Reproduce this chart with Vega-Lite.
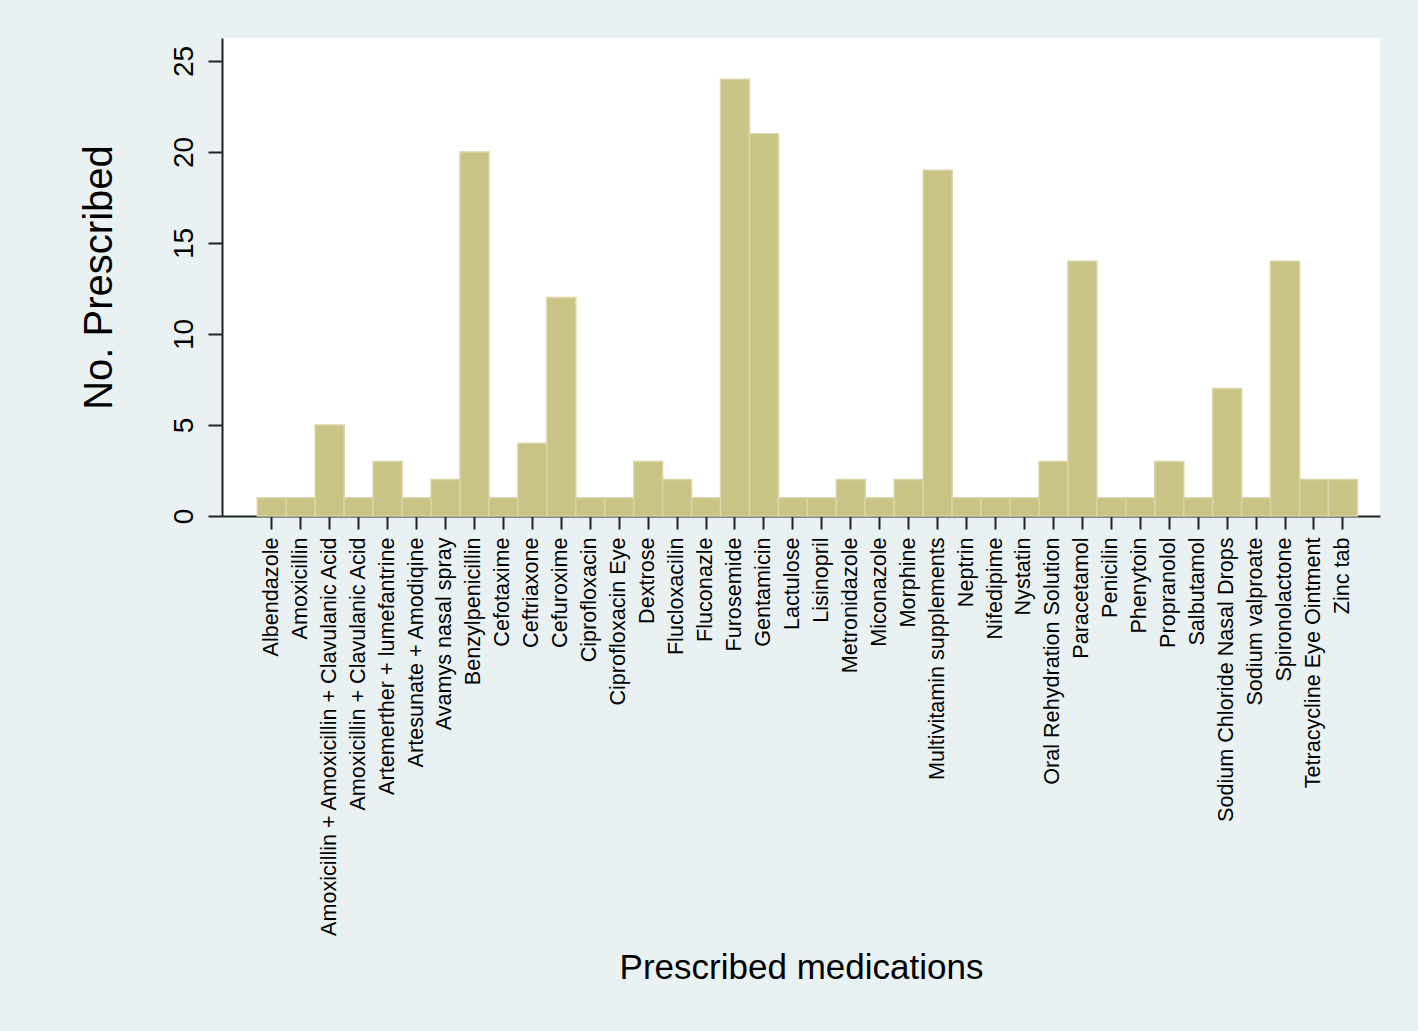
{
  "$schema": "https://vega.github.io/schema/vega-lite/v6.json",
  "autosize": {"type": "none"},
  "width": 1158,
  "height": 478,
  "padding": {"left": 222, "top": 38, "right": 38, "bottom": 515},
  "background": "#EAF1F3",
  "view": {"fill": "white", "stroke": null},
  "config": {"font": "Liberation Sans"},
  "data": {
    "values": [
      {"med": "Albendazole", "n": 1},
      {"med": "Amoxicillin", "n": 1},
      {"med": "Amoxicillin + Amoxicillin + Clavulanic Acid", "n": 5},
      {"med": "Amoxicillin + Clavulanic Acid", "n": 1},
      {"med": "Artemerther + lumefantrine", "n": 3},
      {"med": "Artesunate + Amodiqine", "n": 1},
      {"med": "Avamys nasal spray", "n": 2},
      {"med": "Benzylpenicillin", "n": 20},
      {"med": "Cefotaxime", "n": 1},
      {"med": "Ceftriaxone", "n": 4},
      {"med": "Cefuroxime", "n": 12},
      {"med": "Ciprofloxacin", "n": 1},
      {"med": "Ciprofloxacin Eye", "n": 1},
      {"med": "Dextrose", "n": 3},
      {"med": "Flucloxacilin", "n": 2},
      {"med": "Fluconazle", "n": 1},
      {"med": "Furosemide", "n": 24},
      {"med": "Gentamicin", "n": 21},
      {"med": "Lactulose", "n": 1},
      {"med": "Lisinopril", "n": 1},
      {"med": "Metronidazole", "n": 2},
      {"med": "Miconazole", "n": 1},
      {"med": "Morphine", "n": 2},
      {"med": "Multivitamin supplements", "n": 19},
      {"med": "Neptrin", "n": 1},
      {"med": "Nifedipime", "n": 1},
      {"med": "Nystatin", "n": 1},
      {"med": "Oral Rehydration Solution", "n": 3},
      {"med": "Paracetamol", "n": 14},
      {"med": "Penicilin", "n": 1},
      {"med": "Phenytoin", "n": 1},
      {"med": "Propranolol", "n": 3},
      {"med": "Salbutamol", "n": 1},
      {"med": "Sodium Chloride Nasal Drops", "n": 7},
      {"med": "Sodium valproate", "n": 1},
      {"med": "Spironolactone", "n": 14},
      {"med": "Tetracycline Eye Ointment", "n": 2},
      {"med": "Zinc tab", "n": 2}
    ]
  },
  "mark": {"type": "bar", "color": "#CAC386", "stroke": "#DAD4A6", "strokeWidth": 1.5},
  "encoding": {
    "x": {
      "field": "med",
      "type": "nominal",
      "sort": null,
      "scale": {"paddingInner": 0, "paddingOuter": 1.0, "align": 0.61},
      "axis": {
        "title": "Prescribed medications",
        "titleFontSize": 35,
        "titleFontWeight": "normal",
        "titleColor": "#000",
        "titlePadding": 234,
        "labelAngle": -90,
        "labelAlign": "right",
        "labelBaseline": "middle",
        "labelFontSize": 21.6,
        "labelColor": "#000",
        "labelPadding": 8,
        "labelLimit": 0,
        "tickSize": 13,
        "tickColor": "#222",
        "tickWidth": 2,
        "domainColor": "#222",
        "domainWidth": 2
      }
    },
    "y": {
      "field": "n",
      "type": "quantitative",
      "scale": {"domain": [0, 26.26], "nice": false},
      "axis": {
        "title": "No. Prescribed",
        "values": [0, 5, 10, 15, 20, 25],
        "grid": false,
        "titleFontSize": 40,
        "titleFontWeight": "normal",
        "titleColor": "#000",
        "titlePadding": 51,
        "labelAngle": 270,
        "labelAlign": "center",
        "labelBaseline": "bottom",
        "labelFontSize": 28,
        "labelColor": "#000",
        "labelPadding": 10,
        "tickSize": 14,
        "tickColor": "#222",
        "tickWidth": 2,
        "domainColor": "#222",
        "domainWidth": 2
      }
    }
  }
}
